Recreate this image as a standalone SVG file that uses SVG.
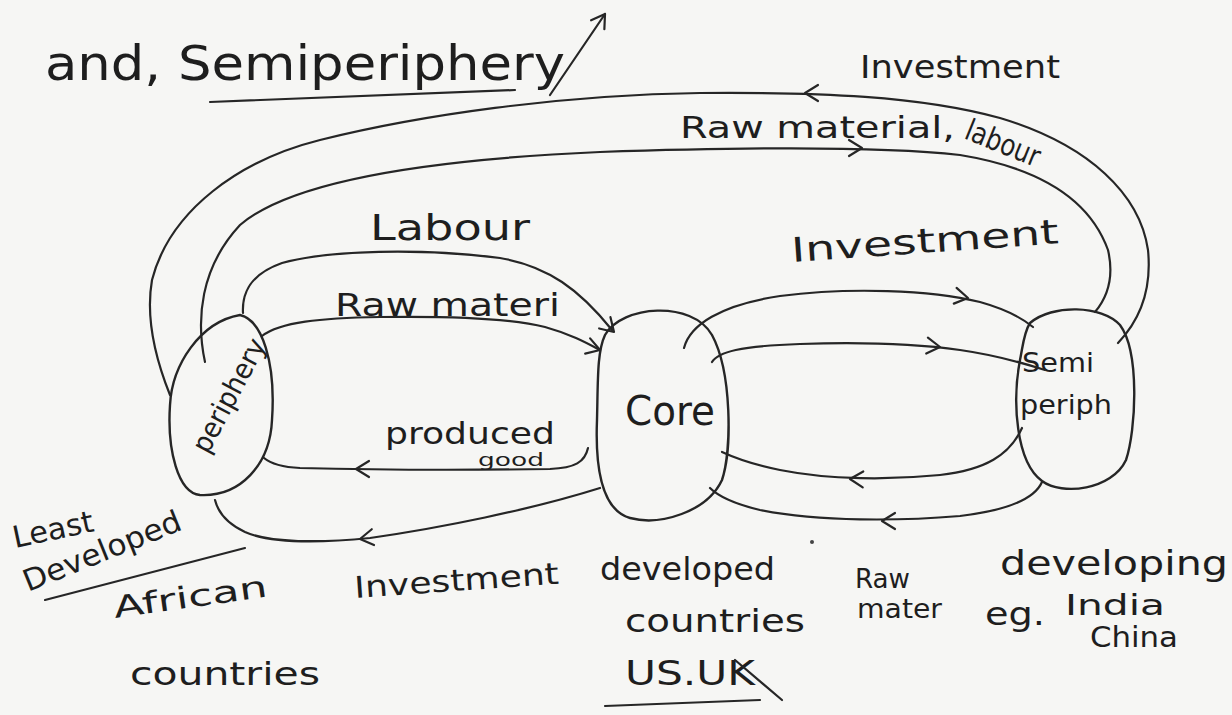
<svg xmlns="http://www.w3.org/2000/svg" xmlns:xlink="http://www.w3.org/1999/xlink" width="1232" height="715" viewBox="0 0 1232 715">
<style>
.ln{fill:none;stroke:#262626;stroke-width:2.2;stroke-linecap:round;stroke-linejoin:round}
.blob{fill:none;stroke:#262626;stroke-width:2.4}
.hw{font-family:"DejaVu Sans","Liberation Sans",sans-serif;fill:#1e1e1e}
</style>
<defs>
<path id="chev" d="M-13,-8 L0,0 L-13,8" fill="none" stroke="#262626" stroke-width="2.2" stroke-linecap="round" stroke-linejoin="round"/>
</defs>
<rect width="1232" height="715" fill="#f6f6f4"/>

<g id="title">
<text class="hw" x="45" y="80" font-size="48" textLength="520" lengthAdjust="spacingAndGlyphs">and, Semiperiphery</text>
<path class="ln" d="M210,102 L515,90"/>
<path class="ln" d="M550,95 L605,14"/>
<use xlink:href="#chev" transform="translate(605,14) rotate(-56)"/>
</g>

<g id="periphery">
<path class="blob" d="M240,315 C262,320 276,362 272,420 C270,465 240,497 200,495 C178,493 167,450 170,405 C172,365 200,322 240,315 Z"/>
<text class="hw" font-size="28" transform="translate(208,455) rotate(-62)" textLength="125" lengthAdjust="spacingAndGlyphs">periphery</text>
</g>

<g id="core">
<path class="blob" d="M605,335 C622,305 692,300 712,335 C732,372 732,450 722,480 C707,512 660,526 630,518 C602,510 595,470 597,420 C598,380 597,352 605,335 Z"/>
<text class="hw" x="625" y="425" font-size="40" textLength="90" lengthAdjust="spacingAndGlyphs">Core</text>
</g>

<g id="semiperiphery">
<path class="blob" d="M1030,323 C1052,304 1102,305 1120,325 C1140,352 1136,430 1126,460 C1112,490 1062,496 1042,481 C1016,462 1012,402 1020,360 C1023,345 1024,332 1030,323 Z"/>
<text class="hw" x="1022" y="372" font-size="26" textLength="72" lengthAdjust="spacingAndGlyphs">Semi</text>
<text class="hw" x="1020" y="414" font-size="26" textLength="92" lengthAdjust="spacingAndGlyphs">periph</text>
</g>

<g id="connectors">
<!-- outer loop: Investment (semi -> periphery) -->
<path class="ln" d="M1118,343 C1140,320 1152,290 1148,250 C1140,195 1090,145 1000,118 C920,96 820,92 700,93 C560,95 420,115 320,140 C240,160 170,210 152,280 C145,320 158,365 170,395"/>
<use xlink:href="#chev" transform="translate(805,93) rotate(180)"/>
<!-- inner loop: Raw material, labour (periphery -> semi) -->
<path class="ln" d="M205,362 C196,320 200,268 240,225 C290,182 420,160 600,152 C750,147 880,146 960,155 C1040,168 1090,200 1108,250 C1115,280 1105,300 1095,312"/>
<use xlink:href="#chev" transform="translate(862,148) rotate(0)"/>
<!-- Labour (periphery -> core) -->
<path class="ln" d="M243,313 C242,295 248,275 282,263 C330,250 420,248 500,258 C548,266 580,290 612,330"/>
<use xlink:href="#chev" transform="translate(614,332) rotate(45)"/>
<!-- Raw materi (periphery -> core) -->
<path class="ln" d="M262,336 C280,322 320,318 380,317 C450,316 510,318 545,327 C570,334 585,342 598,349"/>
<use xlink:href="#chev" transform="translate(600,350) rotate(18)"/>
<!-- produced good (core -> periphery) -->
<path class="ln" d="M588,448 C585,462 575,468 550,469 C480,470 380,470 300,468 C280,467 270,463 264,458"/>
<use xlink:href="#chev" transform="translate(356,469) rotate(180)"/>
<!-- Investment bottom (core -> periphery) -->
<path class="ln" d="M600,488 C530,510 440,528 370,538 C320,543 270,543 245,532 C228,524 218,512 215,500"/>
<use xlink:href="#chev" transform="translate(360,539) rotate(172)"/>
<!-- Investment (core -> semi) upper -->
<path class="ln" d="M684,348 C690,325 720,305 780,296 C850,287 930,290 980,302 C1005,309 1022,318 1033,327"/>
<use xlink:href="#chev" transform="translate(968,298) rotate(10)"/>
<!-- core -> semi lower -->
<path class="ln" d="M712,362 C718,352 740,346 800,344 C860,342 910,343 960,350 C995,355 1020,362 1045,370"/>
<use xlink:href="#chev" transform="translate(940,347) rotate(6)"/>
<!-- semi -> core middle -->
<path class="ln" d="M1022,428 C1010,455 985,470 940,475 C890,480 830,480 780,470 C755,465 735,458 722,452"/>
<use xlink:href="#chev" transform="translate(850,479) rotate(182)"/>
<!-- semi -> core bottom (Raw mater) -->
<path class="ln" d="M1042,482 C1035,498 1010,510 960,516 C900,521 820,522 760,510 C735,504 718,496 710,488"/>
<use xlink:href="#chev" transform="translate(882,521) rotate(180)"/>
</g>

<g id="labels">
<text class="hw" x="860" y="78" font-size="32" textLength="200" lengthAdjust="spacingAndGlyphs">Investment</text>
<text class="hw" x="680" y="138" font-size="30" textLength="275" lengthAdjust="spacingAndGlyphs">Raw material,</text>
<text class="hw" font-size="30" transform="translate(963,138) rotate(22)" textLength="78" lengthAdjust="spacingAndGlyphs">labour</text>
<text class="hw" x="370" y="240" font-size="36" textLength="160" lengthAdjust="spacingAndGlyphs">Labour</text>
<text class="hw" x="335" y="316" font-size="32" textLength="225" lengthAdjust="spacingAndGlyphs">Raw materi</text>
<text class="hw" transform="translate(792,262) rotate(-4)" font-size="34" textLength="268" lengthAdjust="spacingAndGlyphs">Investment</text>
<text class="hw" x="385" y="444" font-size="30" textLength="170" lengthAdjust="spacingAndGlyphs">produced</text>
<text class="hw" x="478" y="466" font-size="17" textLength="66" lengthAdjust="spacingAndGlyphs">good</text>
<text class="hw" transform="translate(355,598) rotate(-4)" font-size="30" textLength="205" lengthAdjust="spacingAndGlyphs">Investment</text>
<text class="hw" transform="translate(15,548) rotate(-12)" font-size="30" textLength="82" lengthAdjust="spacingAndGlyphs">Least</text>
<text class="hw" transform="translate(28,592) rotate(-22)" font-size="30" textLength="168" lengthAdjust="spacingAndGlyphs">Developed</text>
<path class="ln" d="M45,600 L245,548"/>
<text class="hw" transform="translate(115,618) rotate(-8)" font-size="30" textLength="155" lengthAdjust="spacingAndGlyphs">African</text>
<text class="hw" x="130" y="685" font-size="32" textLength="190" lengthAdjust="spacingAndGlyphs">countries</text>
<text class="hw" x="600" y="580" font-size="32" textLength="175" lengthAdjust="spacingAndGlyphs">developed</text>
<text class="hw" x="625" y="632" font-size="32" textLength="180" lengthAdjust="spacingAndGlyphs">countries</text>
<text class="hw" x="625" y="685" font-size="34" textLength="130" lengthAdjust="spacingAndGlyphs">US.UK</text>
<path class="ln" d="M605,706 L760,700 M735,660 L782,700"/>
<circle cx="812" cy="542" r="2" fill="#444"/>
<text class="hw" x="855" y="588" font-size="26" textLength="55" lengthAdjust="spacingAndGlyphs">Raw</text>
<text class="hw" x="857" y="618" font-size="26" textLength="85" lengthAdjust="spacingAndGlyphs">mater</text>
<text class="hw" x="1000" y="575" font-size="34" textLength="228" lengthAdjust="spacingAndGlyphs">developing</text>
<text class="hw" x="985" y="625" font-size="32" textLength="60" lengthAdjust="spacingAndGlyphs">eg.</text>
<text class="hw" x="1065" y="615" font-size="28" textLength="100" lengthAdjust="spacingAndGlyphs">India</text>
<text class="hw" x="1090" y="647" font-size="28" textLength="88" lengthAdjust="spacingAndGlyphs">China</text>
</g>
</svg>
